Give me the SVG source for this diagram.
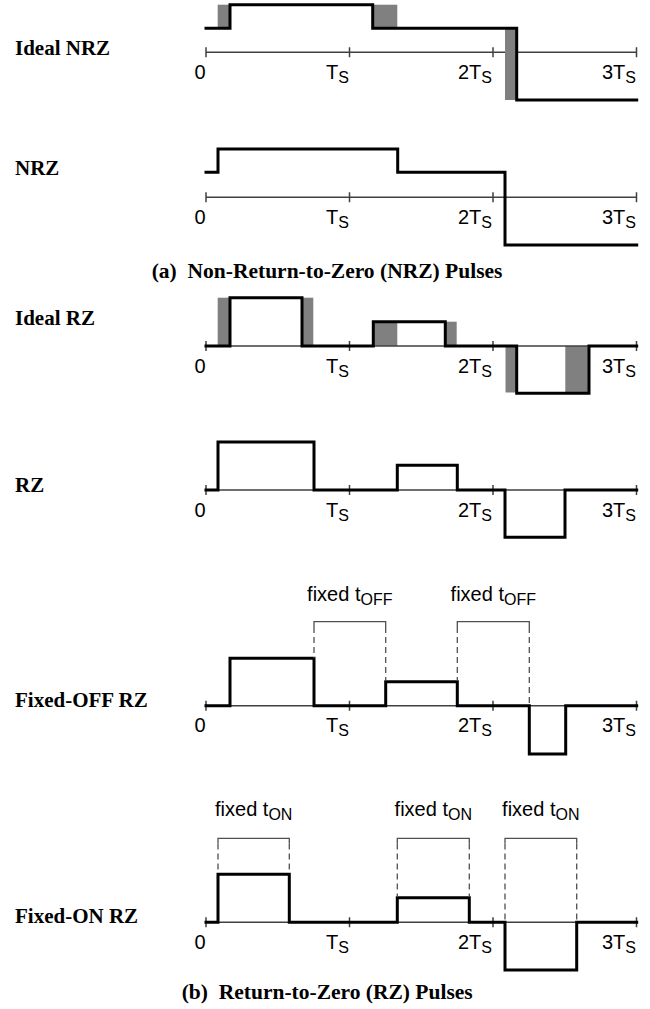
<svg xmlns="http://www.w3.org/2000/svg" width="650" height="1009" viewBox="0 0 650 1009">
<style>
.bg{fill:#ffffff}
.ax{stroke:#404040;stroke-width:1.5;fill:none}
.wf{stroke:#000;stroke-width:3;fill:none;stroke-linejoin:miter;stroke-linecap:square}
.sh{fill:#808080;stroke:none}
.br{stroke:#505050;stroke-width:1.3;fill:none}
.dl{stroke:#505050;stroke-width:1.3;fill:none;stroke-dasharray:6 4}
.lb{font-family:"Liberation Serif","Times New Roman",serif;font-weight:bold;font-size:21px;fill:#000}
.cap{font-size:21.5px}
.tk{font-family:"Liberation Sans",Arial,sans-serif;font-size:20px;fill:#000}
.sub{font-size:16px}
</style>
<defs>
<g id="axis">
<path class="ax" d="M206,0 H636.5 M206,-5 V5 M349.5,-5 V5 M493,-5 V5 M636.5,-5 V5"/>
<text class="tk" x="200" y="26.5" text-anchor="middle">0</text>
<text class="tk" x="349" y="26.5" text-anchor="end">T<tspan class="sub" dy="4">S</tspan></text>
<text class="tk" x="492" y="26.5" text-anchor="end">2T<tspan class="sub" dy="4">S</tspan></text>
<text class="tk" x="636" y="26.5" text-anchor="end">3T<tspan class="sub" dy="4">S</tspan></text>
</g>
</defs>
<rect class="bg" x="0" y="0" width="650" height="1009"/>

<g id="ideal-nrz">
<text class="lb" x="15" y="55">Ideal NRZ</text>
<use href="#axis" transform="translate(0,52.3)"/>
<rect class="sh" x="217.7" y="4.7" width="12.3" height="23.6"/>
<rect class="sh" x="372.7" y="4.7" width="24.6" height="23.6"/>
<rect class="sh" x="505" y="28.3" width="11.7" height="71.7"/>
<polyline class="wf" points="206,28.3 230,28.3 230,4.7 372.7,4.7 372.7,28.3 516.7,28.3 516.7,100 636.7,100"/>
</g>

<g id="nrz">
<text class="lb" x="15" y="175">NRZ</text>
<use href="#axis" transform="translate(0,197.3)"/>
<polyline class="wf" points="206,172.3 218,172.3 218,149 397.7,149 397.7,172.3 505,172.3 505,245 636.7,245"/>
</g>

<g id="caption-a">
<text class="lb cap" x="151.7" y="278.3" xml:space="preserve">(a)  Non-Return-to-Zero (NRZ) Pulses</text>
</g>

<g id="ideal-rz">
<text class="lb" x="15" y="325">Ideal RZ</text>
<rect class="sh" x="217.7" y="297.7" width="12.3" height="48.3"/>
<rect class="sh" x="302" y="297.7" width="11.3" height="48.3"/>
<rect class="sh" x="373.3" y="321.7" width="24" height="24.3"/>
<rect class="sh" x="445.3" y="321.7" width="11.4" height="24.3"/>
<rect class="sh" x="505.5" y="346" width="11.2" height="46.5"/>
<rect class="sh" x="565.3" y="346" width="23.7" height="46.5"/>
<use href="#axis" transform="translate(0,346)"/>
<polyline class="wf" points="206,346 230,346 230,297.7 302,297.7 302,346 373.3,346 373.3,321.7 445.3,321.7 445.3,346 516.7,346 516.7,393.3 589,393.3 589,346 636.7,346"/>
</g>

<g id="rz">
<text class="lb" x="15" y="491.7">RZ</text>
<use href="#axis" transform="translate(0,490)"/>
<polyline class="wf" points="206,490 218,490 218,442 314,442 314,490 397.3,490 397.3,465.3 457.3,465.3 457.3,490 505,490 505,537.3 565,537.3 565,490 636.7,490"/>
</g>

<g id="fixed-off-rz">
<text class="lb" x="15" y="706.7">Fixed-OFF RZ</text>
<use href="#axis" transform="translate(0,705.7)"/>
<polyline class="wf" points="206,705.7 230,705.7 230,658.3 314,658.3 314,705.7 385.7,705.7 385.7,681.7 457.3,681.7 457.3,705.7 529.3,705.7 529.3,754 565.7,754 565.7,705.7 636.7,705.7"/>
<text class="tk" x="349.8" y="601" text-anchor="middle">fixed t<tspan class="sub" dy="4">OFF</tspan></text>
<text class="tk" x="493.3" y="601" text-anchor="middle">fixed t<tspan class="sub" dy="4">OFF</tspan></text>
</g>

<g id="fixed-on-rz">
<text class="lb" x="15" y="923.3">Fixed-ON RZ</text>
<use href="#axis" transform="translate(0,922.3)"/>
<polyline class="wf" points="206,922.3 218,922.3 218,874.3 289.3,874.3 289.3,922.3 397.3,922.3 397.3,897.7 469.3,897.7 469.3,922.3 505,922.3 505,970 576.7,970 576.7,922.3 636.7,922.3"/>
<text class="tk" x="253.7" y="816" text-anchor="middle">fixed t<tspan class="sub" dy="4">ON</tspan></text>
<text class="tk" x="433.3" y="816" text-anchor="middle">fixed t<tspan class="sub" dy="4">ON</tspan></text>
<text class="tk" x="540.8" y="816" text-anchor="middle">fixed t<tspan class="sub" dy="4">ON</tspan></text>
</g>

<g id="caption-b">
<text class="lb cap" x="181.7" y="999" xml:space="preserve">(b)  Return-to-Zero (RZ) Pulses</text>
</g>

<g id="connectors">
<path class="br" d="M314,627 V621.7 H385.7 V627 M457.3,627 V621.7 H529.3 V627"/>
<path class="dl" d="M314,627 V658 M385.7,627 V681 M457.3,627 V681 M529.3,627 V705"/>
<path class="br" d="M218,843.5 V838.3 H289.3 V843.5 M397.3,843.5 V838.3 H469.3 V843.5 M505,843.5 V838.3 H576.7 V843.5"/>
<path class="dl" d="M218,843.5 V873.5 M289.3,843.5 V873.5 M397.3,843.5 V897 M469.3,843.5 V897 M505,843.5 V921.5 M576.7,843.5 V921.5"/>
</g>
</svg>
